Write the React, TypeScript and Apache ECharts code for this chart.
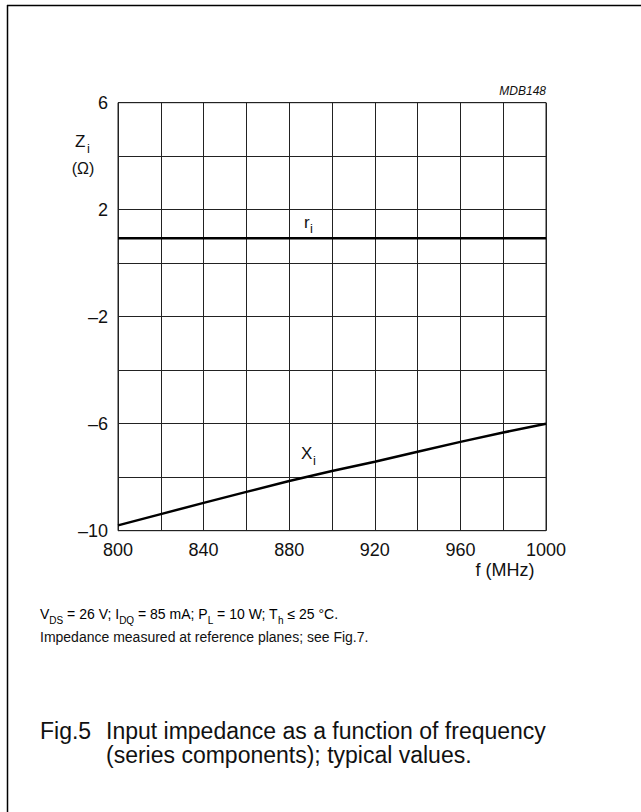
import React, { useEffect, useRef } from "react";
import * as echarts from "echarts";

const freqs = [800, 820, 840, 860, 880, 900, 920, 940, 960, 980, 1000];
const riValues = [0.93, 0.93, 0.93, 0.93, 0.93, 0.93, 0.93, 0.93, 0.93, 0.93, 0.93];
const xiValues = [-9.8, -9.38, -8.96, -8.55, -8.14, -7.77, -7.42, -7.05, -6.68, -6.33, -6.0];
const yTickLabels = [6, 2, -2, -6, -10];
const xTickLabels = [800, 840, 880, 920, 960, 1000];

const FONT = "'Liberation Sans', Arial, Helvetica, sans-serif";
const INK = "#111";

const fmtNum = (v: number) => (v < 0 ? "\u2013" + Math.abs(v) : String(v));

export default function App() {
  const ref = useRef<HTMLDivElement>(null);
  useEffect(() => {
    if (!ref.current) return;
    const chart = echarts.init(ref.current, null, { renderer: "svg" });
    const txt = (
      x: number,
      y: number,
      text: string,
      size: number,
      extra: any = {}
    ) => ({
      type: "text",
      x,
      y,
      style: {
        text,
        fontSize: size,
        fontFamily: FONT,
        fill: INK,
        verticalAlign: "middle",
        ...extra,
      },
    });
    const rich = {
      n: { fontSize: 14, fontFamily: FONT, color: INK, lineHeight: 14, verticalAlign: "top" },
      s: {
        fontSize: 10,
        fontFamily: FONT,
        color: INK,
        lineHeight: 10,
        padding: [8, 0, 0, 0],
        verticalAlign: "top",
      },
    };
    chart.setOption({
      animation: false,
      grid: {
        left: 118,
        right: 95,
        top: 102.7,
        bottom: 281.3,
        show: true,
        borderColor: "#222",
        borderWidth: 1,
      },
      xAxis: {
        type: "value",
        min: 800,
        max: 1000,
        interval: 20,
        axisLine: { show: true, lineStyle: { color: "#222", width: 1 } },
        axisTick: { show: false },
        splitLine: { show: true, lineStyle: { color: "#222", width: 1 } },
        axisLabel: {
          margin: 10,
          fontSize: 18,
          fontFamily: FONT,
          color: INK,
          formatter: (v: number) => (xTickLabels.includes(v) ? String(v) : ""),
        },
      },
      yAxis: {
        type: "value",
        min: -10,
        max: 6,
        interval: 2,
        axisLine: { show: true, lineStyle: { color: "#222", width: 1 } },
        axisTick: { show: false },
        splitLine: { show: true, lineStyle: { color: "#222", width: 1 } },
        axisLabel: {
          margin: 10,
          fontSize: 18,
          fontFamily: FONT,
          color: INK,
          formatter: (v: number) => (yTickLabels.includes(v) ? fmtNum(v) : ""),
        },
      },
      series: [
        {
          name: "ri",
          type: "line",
          data: freqs.map((f, i) => [f, riValues[i]]),
          symbol: "none",
          lineStyle: { color: "#000", width: 2.5 },
        },
        {
          name: "Xi",
          type: "line",
          data: freqs.map((f, i) => [f, xiValues[i]]),
          symbol: "none",
          lineStyle: { color: "#000", width: 2.5 },
        },
      ],
      graphic: [
        { type: "line", shape: { x1: 7, y1: 5.5, x2: 641, y2: 5.5 }, style: { stroke: "#000", lineWidth: 1.5 } },
        { type: "line", shape: { x1: 7.5, y1: 5, x2: 7.5, y2: 812 }, style: { stroke: "#000", lineWidth: 1.5 } },
        txt(546, 91, "MDB148", 12, { align: "right", fontStyle: "italic" }),
        txt(75, 141, "Z", 17),
        txt(87, 148, "i", 13),
        txt(83, 168, "(\u03a9)", 16, { align: "center" }),
        txt(304, 222, "r", 17),
        txt(310, 228, "i", 13),
        txt(301, 453, "X", 17),
        txt(313, 460, "i", 13),
        txt(505, 570, "f (MHz)", 18, { align: "center" }),
        {
          type: "text",
          x: 40,
          y: 614,
          style: {
            text: "{n|V}{s|DS}{n| = 26 V; I}{s|DQ}{n| = 85 mA; P}{s|L}{n| = 10 W; T}{s|h}{n| \u2264 25 \u00b0C.}",
            rich,
            verticalAlign: "middle",
          },
        },
        txt(40, 637, "Impedance measured at reference planes; see Fig.7.", 14),
        txt(40, 731, "Fig.5", 23),
        txt(106, 731, "Input impedance as a function of frequency", 23),
        txt(106, 755, "(series components); typical values.", 23),
      ],
    });
    return () => chart.dispose();
  }, []);
  return (
    <div
      ref={ref}
      style={{ position: "fixed", left: 0, top: 0, width: 641, height: 812, background: "#fff" }}
    />
  );
}
